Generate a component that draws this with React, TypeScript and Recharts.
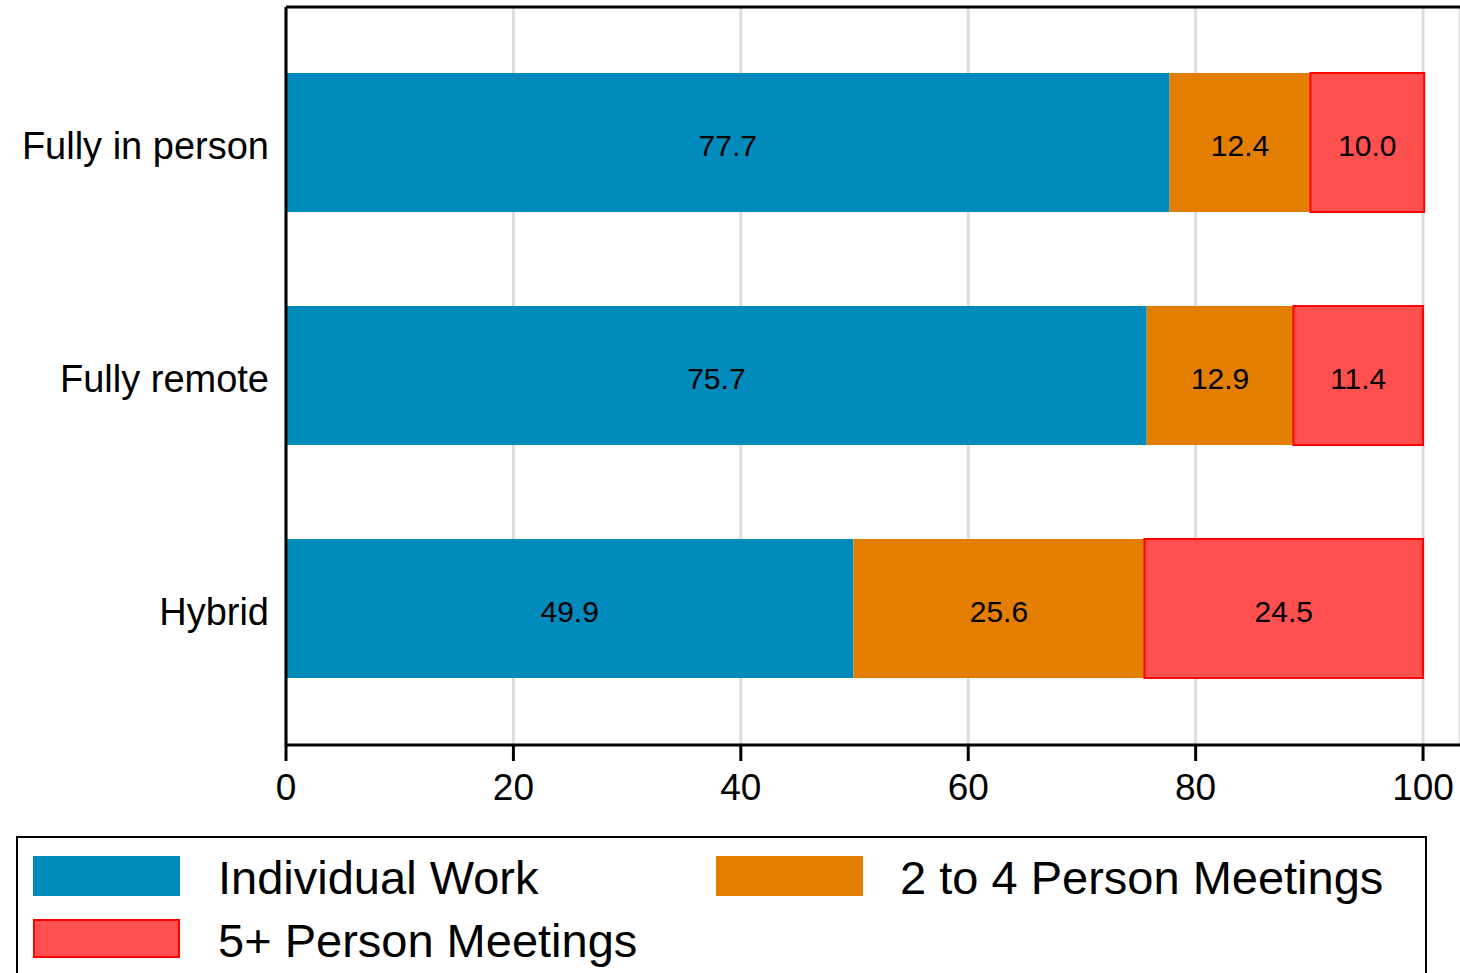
import React from "react";
import { BarChart, Bar, XAxis, YAxis, CartesianGrid, LabelList, Legend } from "recharts";

const categories = ["Fully in person", "Fully remote", "Hybrid"];
const individualWork = [77.7, 75.7, 49.9];
const smallMeetings = [12.4, 12.9, 25.6];
const largeMeetings = [10.0, 11.4, 24.5];
const xTicks = [0, 20, 40, 60, 80, 100];
const seriesNames = ["Individual Work", "2 to 4 Person Meetings", "5+ Person Meetings"];

const data = categories.map((name, i) => ({
  name,
  individual: individualWork[i],
  small: smallMeetings[i],
  large: largeMeetings[i],
}));

const BLUE = "#008bbc";
const ORANGE = "#e37e00";
const RED_FILL = "#ff5050";
const RED_STROKE = "#ff0000";
const FONT = "'Liberation Sans', Arial, Helvetica, sans-serif";

const fmt = (v: any) => Number(v).toFixed(1);

const legendText: React.CSSProperties = {
  position: "absolute",
  fontFamily: FONT,
  fontSize: 47,
  lineHeight: "47px",
  color: "#000",
  whiteSpace: "nowrap",
};

const renderLegend = () => (
  <div
    style={{
      position: "relative",
      width: 1411,
      height: 200,
      border: "2px solid #000",
      boxSizing: "border-box",
      background: "#fff",
    }}
  >
    <div style={{ position: "absolute", left: 15, top: 18, width: 147, height: 40, background: BLUE }} />
    <div style={{ ...legendText, left: 200, top: 16 }}>{seriesNames[0]}</div>
    <div style={{ position: "absolute", left: 698, top: 18, width: 147, height: 40, background: ORANGE }} />
    <div style={{ ...legendText, left: 882, top: 16 }}>{seriesNames[1]}</div>
    <div
      style={{
        position: "absolute",
        left: 15,
        top: 81,
        width: 147,
        height: 39,
        background: RED_FILL,
        border: `2px solid ${RED_STROKE}`,
        boxSizing: "border-box",
      }}
    />
    <div style={{ ...legendText, left: 200, top: 79 }}>{seriesNames[2]}</div>
  </div>
);

export default function App() {
  return (
    <div
      style={{
        position: "absolute",
        left: 0,
        top: 0,
        width: 1460,
        height: 973,
        overflow: "hidden",
        background: "#fff",
      }}
    >
      <BarChart
        width={1460}
        height={973}
        data={data}
        layout="vertical"
        margin={{ top: 6, right: 0, bottom: 0, left: 0 }}
        barSize={139}
      >
        <CartesianGrid horizontal={false} stroke="#dcdcdc" strokeWidth={3} />
        <XAxis
          type="number"
          domain={[0, 103.25]}
          ticks={xTicks}
          allowDataOverflow
          height={228}
          axisLine={{ stroke: "#000", strokeWidth: 3 }}
          tickLine={{ stroke: "#000", strokeWidth: 3 }}
          tickSize={16}
          tickMargin={13}
          tick={{ fill: "#000", fontSize: 37, fontFamily: FONT }}
          interval={0}
        />
        <XAxis
          xAxisId="top"
          orientation="top"
          type="number"
          domain={[0, 103.25]}
          allowDataOverflow
          height={1}
          ticks={xTicks}
          tick={false}
          tickLine={false}
          axisLine={{ stroke: "#000", strokeWidth: 3 }}
        />
        <YAxis
          type="category"
          dataKey="name"
          width={286}
          axisLine={{ stroke: "#000", strokeWidth: 3 }}
          tickLine={false}
          tickSize={0}
          tickMargin={17}
          padding={{ top: 19, bottom: 20 }}
          tick={{ fill: "#000", fontSize: 38, fontFamily: FONT, dy: 3 }}
        />
        <Legend
          layout="vertical"
          align="center"
          verticalAlign="middle"
          wrapperStyle={{ left: 16, top: 836, width: 1411, height: 200 }}
          content={renderLegend}
        />
        <Bar dataKey="individual" stackId="a" fill={BLUE} isAnimationActive={false}>
          <LabelList dataKey="individual" position="center" formatter={fmt} fill="#000" fontSize={30} fontFamily={FONT} dy={3} />
        </Bar>
        <Bar dataKey="small" stackId="a" fill={ORANGE} isAnimationActive={false}>
          <LabelList dataKey="small" position="center" formatter={fmt} fill="#000" fontSize={30} fontFamily={FONT} dy={3} />
        </Bar>
        <Bar dataKey="large" stackId="a" fill={RED_FILL} stroke={RED_STROKE} strokeWidth={2} isAnimationActive={false}>
          <LabelList dataKey="large" position="center" formatter={fmt} fill="#000" fontSize={30} fontFamily={FONT} stroke="none" dy={3} />
        </Bar>
      </BarChart>
    </div>
  );
}
